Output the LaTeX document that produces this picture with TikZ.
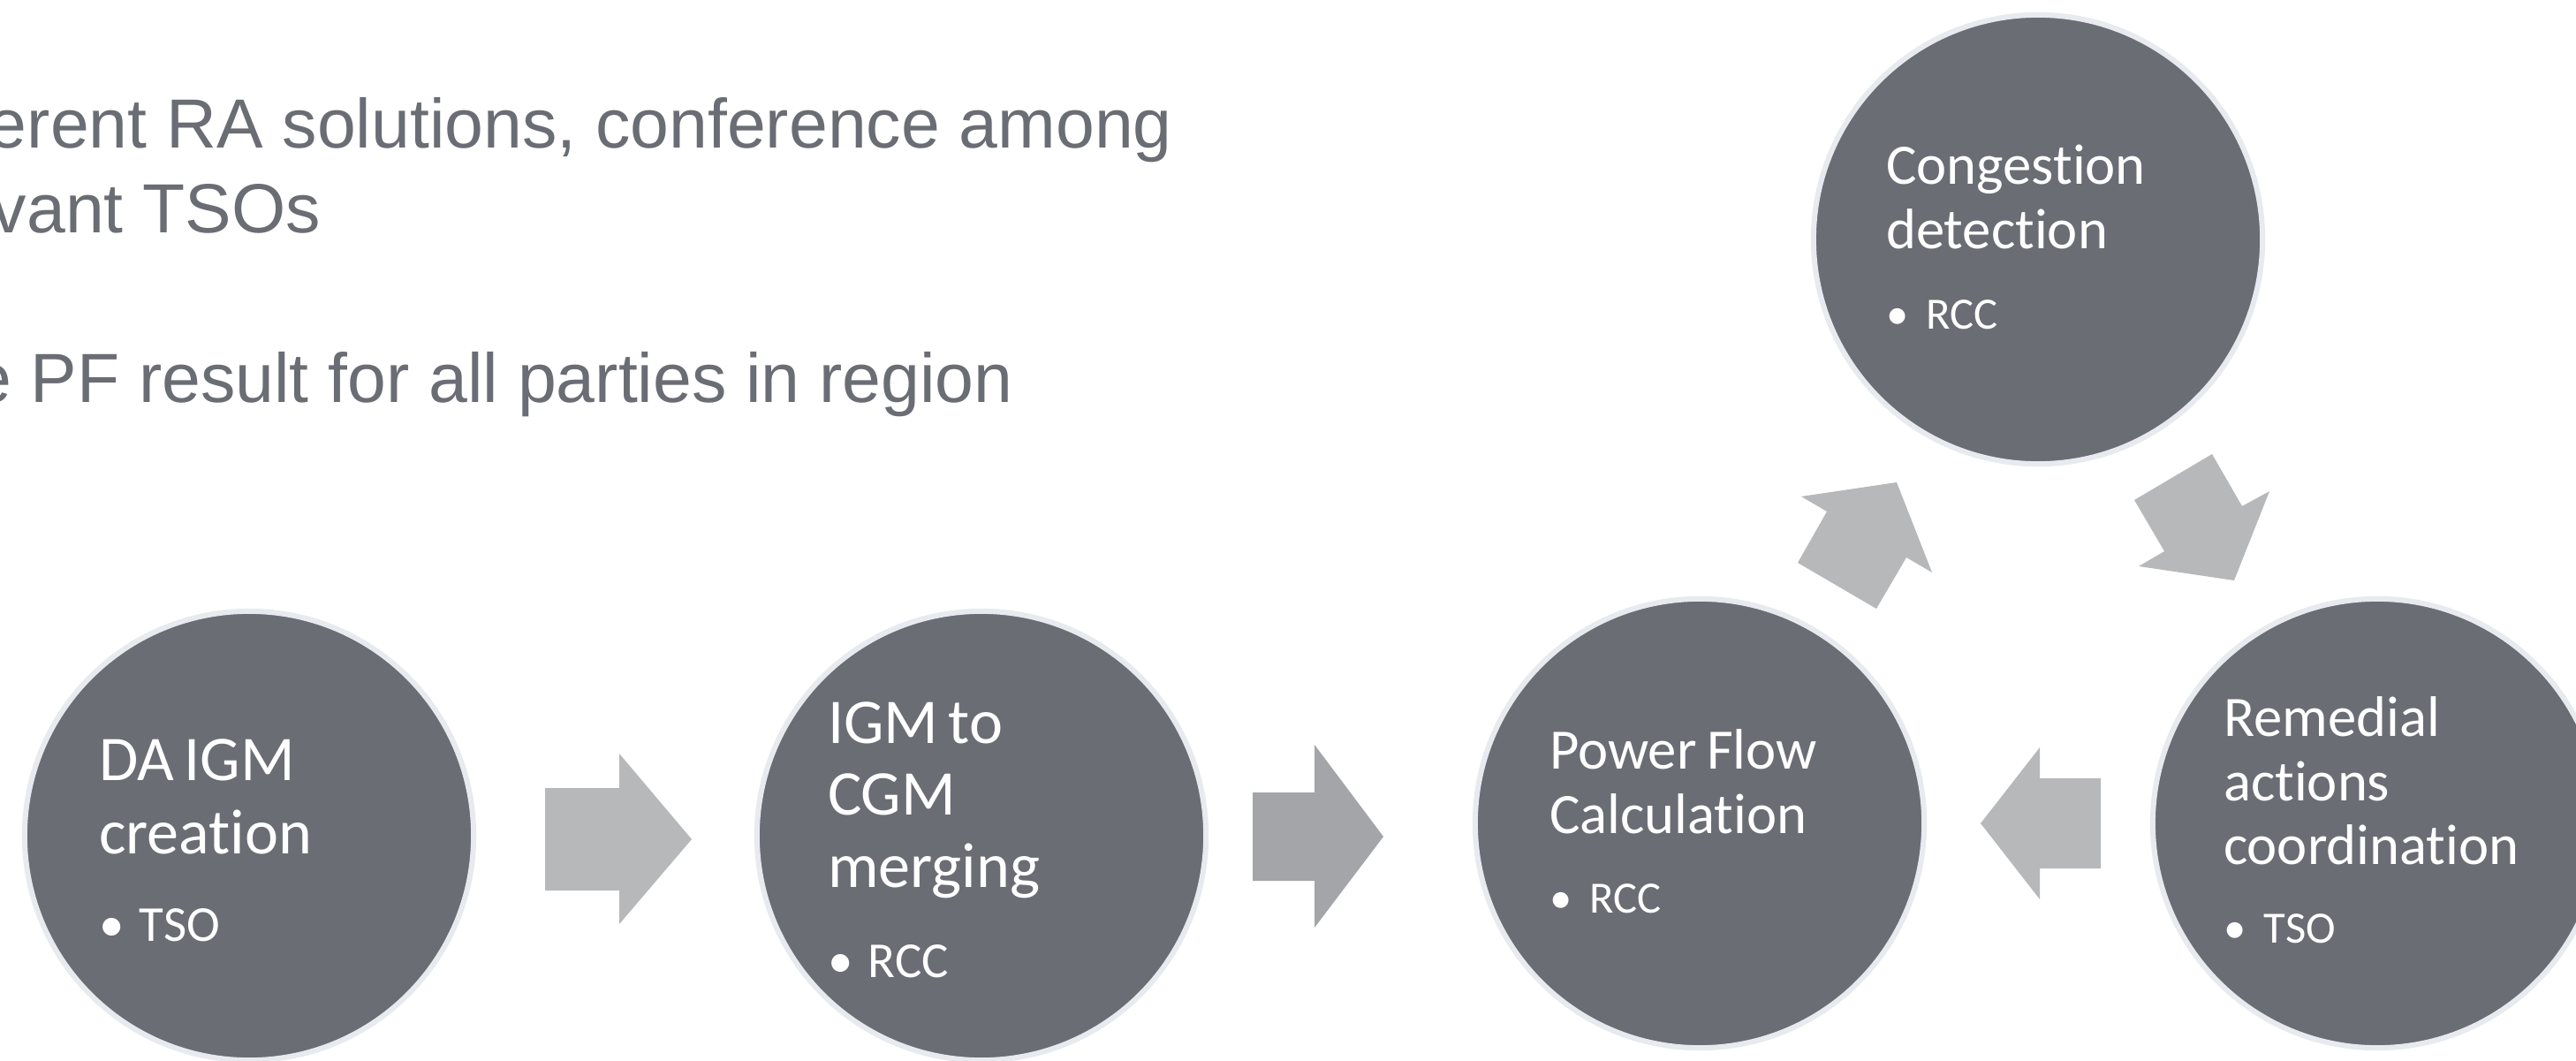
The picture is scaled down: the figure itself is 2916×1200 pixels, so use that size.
\documentclass[tikz,border=0pt]{standalone}
\usepackage{fontspec}
\setmainfont{Liberation Sans}
\newfontfamily\calibri[Ligatures=NoCommon]{Carlito}
\usetikzlibrary{calc}
\setlength{\parskip}{0pt}
\definecolor{circfill}{HTML}{6A6D74}
\definecolor{circline}{HTML}{E7EAEE}
\definecolor{toptext}{HTML}{6A6D74}
\definecolor{arrowlight}{HTML}{B7B8BA}
\definecolor{arrowdark}{HTML}{A3A5A9}
\tikzset{
  stepcircle/.style={circle, fill=circfill, draw=circline, line width=0.06cm,
    minimum size=5.08cm, inner sep=0pt, outer sep=0pt},
  circtext/.style={anchor=north west, inner sep=0pt, outer sep=0pt, text=white,
    align=left, text width=3.7cm, font=\calibri},
  blockarrow/.style={fill=arrowlight},
  blockarrowdark/.style={fill=arrowdark},
  toptextstyle/.style={anchor=base west, inner sep=0pt, outer sep=0pt, text=toptext,
    font=\fontsize{22.4}{27}\selectfont}
}
\newcommand{\bul}{\makebox[13pt][l]{•}}
\begin{document}
\begin{tikzpicture}[x=0.01cm, y=-0.01cm]
\clip (0,0) rectangle (2916,1200);
\fill[white] (0,0) rectangle (2916,1200);

% top-left text
\node[toptextstyle] (l1) at (-13,167) {erent RA solutions, conference among};
\node[toptextstyle] (l2) at (-9,263) {vant TSOs};
\node[toptextstyle] (l3) at (-31,455) {e PF result for all parties in region};

% circles
\node[stepcircle] (c1) at (282,946) {};
\node[stepcircle] (c2) at (1111,946) {};
\node[stepcircle] (c3) at (1924,932) {};
\node[stepcircle] (c4) at (2691,932) {};
\node[stepcircle] (c5) at (2307,271) {};

% circle texts
\node[circtext] (t1) at (112,811) {\fontsize{20.5}{23.6}\selectfont\rule{0pt}{1em}DA IGM\\creation\par
  \fontsize{16.2}{28.2}\selectfont\bul TSO\par};
\node[circtext] (t2) at (937,769) {\fontsize{20.5}{23.2}\selectfont\rule{0pt}{1em}IGM to\\CGM\\merging\par
  \fontsize{16.2}{29}\selectfont\bul RCC\par};
\node[circtext] (t3) at (1754,806) {\fontsize{18.4}{20.8}\selectfont\rule{0pt}{1em}Power Flow\\Calculation\par
  \fontsize{14.4}{25.6}\selectfont\bul RCC\par};
\node[circtext] (t4) at (2517,769) {\fontsize{18.4}{20.6}\selectfont\rule{0pt}{1em}Remedial\\actions\\coordination\par
  \fontsize{14.4}{25.3}\selectfont\bul TSO\par};
\node[circtext] (t5) at (2135,144) {\fontsize{18.4}{20.8}\selectfont\rule{0pt}{1em}Congestion\\detection\par
  \fontsize{14.4}{25.9}\selectfont\bul RCC\par};

% block arrows
\fill[blockarrow] (617,892) -- (701,892) -- (701,853) -- (783,950) -- (701,1046) -- (701,1008) -- (617,1008) -- cycle;
\fill[blockarrowdark] (1418,897) -- (1488,897) -- (1488,843) -- (1566,947) -- (1488,1050) -- (1488,997) -- (1418,997) -- cycle;
\fill[blockarrow] (2378,881) -- (2309,881) -- (2309,846) -- (2242,932) -- (2309,1018) -- (2309,983) -- (2378,983) -- cycle;
\fill[blockarrow] (2068,579) -- (2039,562) -- (2147,546) -- (2187,648) -- (2158,631) -- (2124,689) -- (2035,637) -- cycle;
\fill[blockarrow] (2538,573) -- (2569,556) -- (2529,657) -- (2421,641) -- (2450,624) -- (2416,566) -- (2504,514) -- cycle;
\end{tikzpicture}
\end{document}
